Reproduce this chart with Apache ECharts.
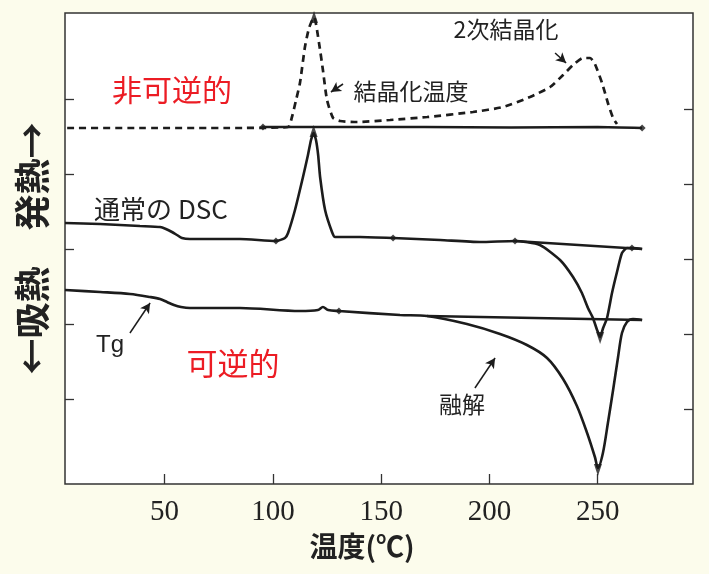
<!DOCTYPE html>
<html>
<head>
<meta charset="utf-8">
<script src="https://cdn.jsdelivr.net/npm/echarts@6.0.0/dist/echarts.min.js"></script>
<style>
html,body{margin:0;padding:0;background:#fcfcec;}
#c{width:709px;height:574px;}
</style>
</head>
<body>
<div id="c"></div>
<script>
// ---- data (temperature °C, heat flow arb. units) ----
const xTicks = [50, 100, 150, 200, 250];
const yTicksLeft = [85, 160, 235, 310, 385];
const yTicksRight = [75, 150, 225, 300, 375];

// non-reversing heat flow (dashed)
const nonReversing = [[5,356],[40,356],[80,356],[107,357],[108.8,367],[110.7,384],[112.5,401],[114.8,437],[116.7,456],[119,467],[121.3,441],[123.1,414],[125,384],[127.8,366],[131,363],[138.8,362],[154.1,364],[171.2,367],[192.4,372],[206.3,377],[218.7,387],[228,397],[234,409],[238.6,419],[243.2,426],[246.5,426],[248.7,420],[252,401],[254.7,381],[257.1,366],[258.9,360]];
const nonReversingBase = [[95,357],[130,357],[170,357],[210,356.5],[250,357],[270.5,356]];

// conventional DSC
const conventional = [[4,261],[20.2,260],[38.6,258],[47.9,257],[50.6,255],[53.4,252],[55.7,249],[58,246],[61.7,245],[84.8,245],[101.4,243],[105.6,246],[107,251],[110.2,274],[113.9,307],[116.2,329],[117.6,344],[118.8,351],[119.9,344],[120.9,329],[121.8,307],[124.1,274],[127.3,252],[128.7,247],[140.2,247],[155.5,246],[177.2,244],[195.6,242],[211.8,243],[223.3,239],[232.6,224],[238.6,207],[242.7,191],[245.5,176],[247.8,166],[249.7,154],[251.1,147],[252.5,156],[254.3,166],[256.6,191],[258.9,212],[261.2,231],[263.5,236],[266.3,236],[270.5,235]];
const conventionalBase = [[211.8,243],[270.5,235]];

// reversing heat flow
const reversing = [[4,194],[20.2,192],[34,190],[43.3,187],[47.9,185],[51.1,182],[54.3,179],[57.6,177],[61.7,176],[84.8,176],[112.5,173],[120.8,174],[123.1,177],[125.5,174],[130.5,173],[158.7,169],[171.2,168],[189.6,160],[204.9,150],[217.3,139],[226.6,126],[234,105],[240.4,78],[245.1,51],[248.7,27],[250.1,16],[252.4,31],[254.7,61],[257.1,94],[259.4,127],[261.2,151],[263.5,162],[266.3,165],[270.5,164]];
const reversingBase = [[171.2,168],[270.5,164]];

// small point marks drawn on the traces
const dotMarks = [[101.4,243],[155.5,246],[211.8,243],[265.8,236],[130.5,173],[270.5,356],[95.4,357]];
const upTips = [[119,467],[118.8,353]];
const downTips = [[251.1,146],[250.1,14]];

const chart = echarts.init(document.getElementById('c'), null, {renderer:'canvas'});
const ink = '#1c1c1c';
const lineSeries = (data, dashed, w, sm) => ({
  type:'line', data, showSymbol:false, symbol:'none', smooth:(sm===undefined?0.2:sm),
  lineStyle:{color:ink, width:w||2.6, type: dashed ? [7,5] : 'solid'},
  silent:true, z:3
});
const arrowLine = (a, b) => [{coord:a},{coord:b}];

chart.setOption({
  animation:false,
  backgroundColor:'#fcfcec',
  grid:{left:65, right:16, top:13, bottom:90, show:true, backgroundColor:'#ffffff', borderColor:'#333', borderWidth:1.5},
  xAxis:{
    type:'value', min:4, max:294,
    axisLine:{show:false},
    splitLine:{show:false},
    axisTick:{show:true, inside:true, length:10, customValues:xTicks, lineStyle:{color:'#333', width:1.3}},
    axisLabel:{customValues:xTicks, fontFamily:'Liberation Serif', fontSize:29, color:'#222', margin:14},
    name:'温度(℃)', nameLocation:'middle', nameGap:45,
    nameTextStyle:{fontFamily:'Noto Sans CJK JP', fontSize:28, fontWeight:'bold', color:'#222', padding:[0,34,0,0]}
  },
  yAxis:[{
    type:'value', min:0, max:471, position:'left',
    axisLine:{show:false}, splitLine:{show:false},
    axisTick:{show:true, inside:true, length:9, customValues:yTicksLeft, lineStyle:{color:'#333', width:1.3}},
    axisLabel:{show:false},
    name:'←吸熱　発熱→', nameLocation:'middle', nameRotate:90, nameGap:15,
    nameTextStyle:{fontFamily:'Noto Sans CJK JP', fontSize:36, fontWeight:'bold', color:'#222'}
  },{
    type:'value', min:0, max:471, position:'right',
    axisLine:{show:false}, splitLine:{show:false},
    axisTick:{show:true, inside:true, length:9, customValues:yTicksRight, lineStyle:{color:'#333', width:1.3}},
    axisLabel:{show:false}
  }],
  series:[
    lineSeries(nonReversing, true, 2.7),
    lineSeries(nonReversingBase, false, 2.4),
    lineSeries(conventional, false, 2.6),
    lineSeries(conventionalBase, false, 2.3),
    lineSeries(reversing, false, 2.6, 0.3),
    lineSeries(reversingBase, false, 2.3),
    {type:'scatter', data:dotMarks, symbol:'diamond', symbolSize:7, itemStyle:{color:ink}, silent:true, z:4},
    {type:'scatter', data:upTips, symbol:'triangle', symbolSize:[8,12], itemStyle:{color:ink}, silent:true, z:4},
    {type:'scatter', data:downTips, symbol:'triangle', symbolRotate:180, symbolSize:[8,12], itemStyle:{color:ink}, silent:true, z:4},
    {type:'line', data:[], silent:true,
      markLine:{silent:true, symbol:['none','arrow'], symbolSize:[8,10], label:{show:false},
        lineStyle:{color:ink, width:1.5, type:'solid'}, animation:false,
        data:[
          arrowLine([132.4,400],[126.8,392]),
          arrowLine([230.3,431],[235.4,421]),
          arrowLine([34.0,151],[43.3,181]),
          arrowLine([193.3,96],[202.6,126])
        ]}
    }
  ],
  graphic:[
    {type:'text', silent:true, style:{text:'非可逆的', x:172, y:90, fill:'#ec1c24', fontSize:30, fontFamily:'Noto Sans CJK JP', align:'center', verticalAlign:'middle'}},
    {type:'text', silent:true, style:{text:'可逆的', x:233, y:363, fill:'#ec1c24', fontSize:31, fontFamily:'Noto Sans CJK JP', align:'center', verticalAlign:'middle'}},
    {type:'text', silent:true, style:{text:'結晶化温度', x:411, y:91, fill:'#222', fontSize:23, fontFamily:'Noto Sans CJK JP', align:'center', verticalAlign:'middle'}},
    {type:'text', silent:true, style:{text:'2次結晶化', x:506, y:29, fill:'#222', fontSize:23, fontFamily:'Noto Sans CJK JP', align:'center', verticalAlign:'middle'}},
    {type:'text', silent:true, style:{text:'通常の DSC', x:161, y:209, fill:'#222', fontSize:26, fontFamily:'Noto Sans CJK JP', align:'center', verticalAlign:'middle'}},
    {type:'text', silent:true, style:{text:'Tg', x:110, y:345, fill:'#222', fontSize:24, fontFamily:'Liberation Sans', align:'center', verticalAlign:'middle'}},
    {type:'text', silent:true, style:{text:'融解', x:462, y:404, fill:'#222', fontSize:23, fontFamily:'Noto Sans CJK JP', align:'center', verticalAlign:'middle'}}
  ]
});
</script>
</body>
</html>
